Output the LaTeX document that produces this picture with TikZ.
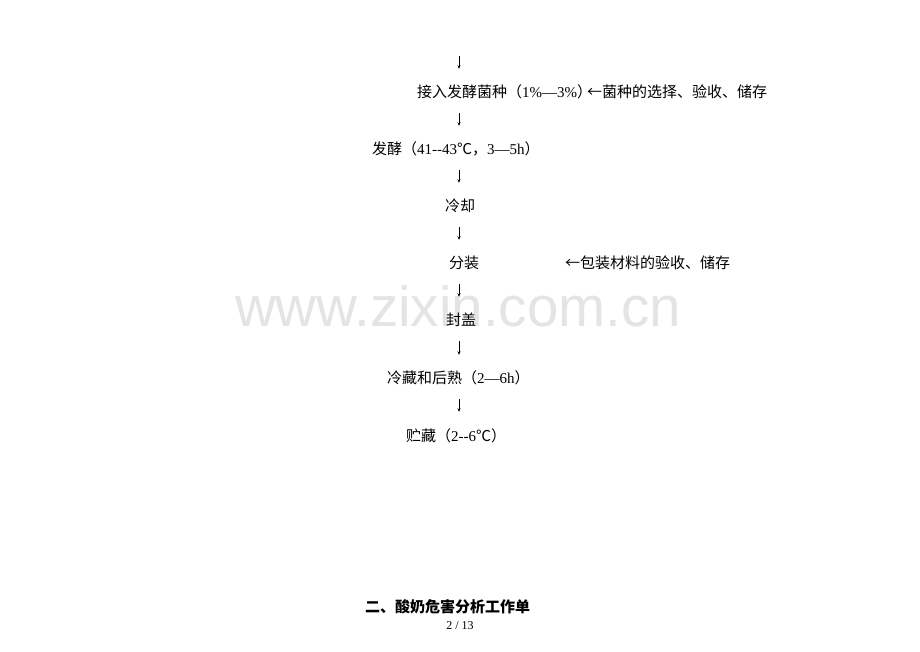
\documentclass[tikz,border=0pt]{standalone}
\usepackage{fontspec}
\setmainfont{Liberation Serif}
\newfontfamily\cjk{Noto Sans CJK SC}
\newfontfamily\wmfont{Liberation Sans}
\usetikzlibrary{arrows.meta}
\definecolor{wmgray}{HTML}{E4E4E4}
\begin{document}
\begin{tikzpicture}[x=1pt,y=1pt,
  stepnode/.style={anchor=west,inner xsep=0pt,inner ysep=0pt,text height=12pt,text depth=0pt,font=\fontsize{15}{17}\selectfont},
  downarr/.style={draw=black,line width=0.6pt,-{Stealth[length=3.5pt,width=3pt]},shorten <=15pt,shorten >=17pt},
]
\useasboundingbox (0,0) rectangle (920,651);
% watermark
\node[anchor=base west,inner sep=0pt,text=wmgray,font=\wmfont\fontsize{56.5}{60}\selectfont] (wm) at (235,{651-327}) {www.zixin.com.cn};
\coordinate (col) at (459,0);
\coordinate (top) at (459,{651-41});
% steps
\node[stepnode] (n1) at (417,{651-92}) {{\cjk 接入发酵菌种（}1\%—3\%{\cjk ）}};
\node[stepnode] (s1) at (587,{651-92}) {{\cjk ←菌种的选择、验收、储存}};
\node[stepnode] (n2) at (372,{651-149}) {{\cjk 发酵（}41-{}-43{\cjk ℃，}3—5h{\cjk ）}};
\node[stepnode] (n3) at (445,{651-206}) {{\cjk 冷却}};
\node[stepnode] (n4) at (449,{651-263}) {{\cjk 分装}};
\node[stepnode] (s4) at (565,{651-263}) {{\cjk ←包装材料的验收、储存}};
\node[stepnode] (n5) at (446,{651-320}) {{\cjk 封盖}};
\node[stepnode] (n6) at (387,{651-378}) {{\cjk 冷藏和后熟（}2—6h{\cjk ）}};
\node[stepnode] (n7) at (406,{651-435}) {{\cjk 贮藏（}2-{}-6{\cjk ℃）}};
% arrows
\draw[downarr] (top) -- (n1.north -| col);
\draw[downarr] (n1.south -| col) -- (n2.north -| col);
\draw[downarr] (n2.south -| col) -- (n3.north -| col);
\draw[downarr] (n3.south -| col) -- (n4.north -| col);
\draw[downarr] (n4.south -| col) -- (n5.north -| col);
\draw[downarr] (n5.south -| col) -- (n6.north -| col);
\draw[downarr] (n6.south -| col) -- (n7.north -| col);
% title and page number
\node[anchor=west,inner sep=0pt,font=\cjk\bfseries\fontsize{15}{17}\selectfont] (title) at (365,{651-607}) {二、酸奶危害分析工作单};
\node[inner sep=0pt,font=\fontsize{12}{14}\selectfont] (page) at (460,{651-626}) {2 / 13};
\end{tikzpicture}
\end{document}
